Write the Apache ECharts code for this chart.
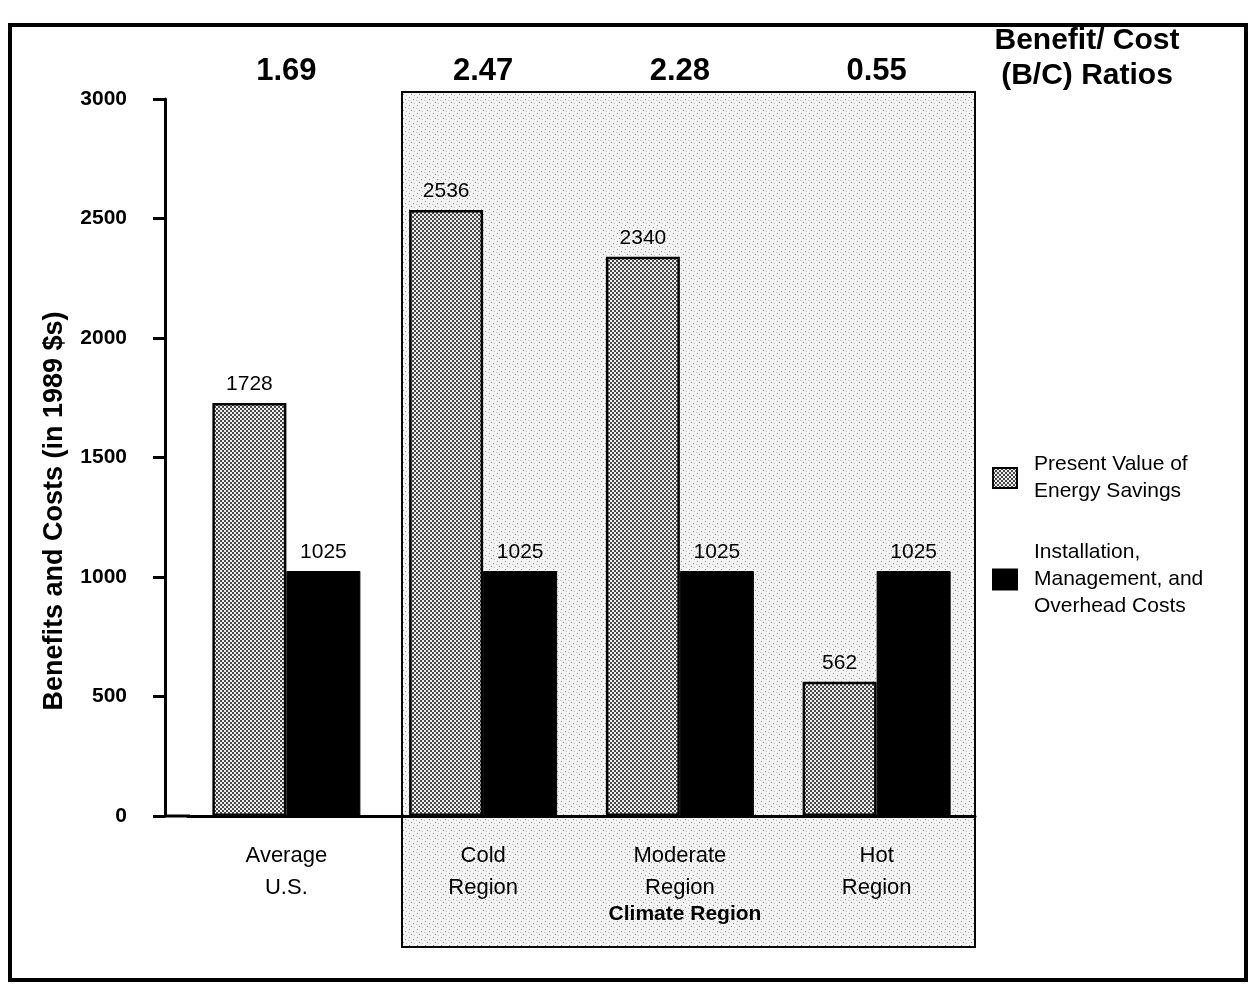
<!DOCTYPE html>
<html>
<head>
<meta charset="utf-8">
<style>
  html, body { margin: 0; padding: 0; background: #fff; }
  #chart { width: 1253px; height: 988px; }
</style>
<script src="https://cdn.jsdelivr.net/npm/echarts@6/dist/echarts.min.js"></script>
</head>
<body>
<div id="chart"></div>
<script>
// Categories along the bottom axis
const categories = ['Average\nU.S.', 'Cold\nRegion', 'Moderate\nRegion', 'Hot\nRegion'];
// Benefit / cost ratios shown above each group
const ratios = ['1.69', '2.47', '2.28', '0.55'];
// Present value of energy savings (1989 $)
const savings = [1728, 2536, 2340, 562];
// Installation, management and overhead costs (1989 $)
const costs = [1025, 1025, 1025, 1025];
// Value axis ticks
const yMin = 0, yMax = 3000, yStep = 500;

const seriesNames = ['Present Value of\nEnergy Savings', 'Installation,\nManagement, and\nOverhead Costs'];

const FONT = '"Liberation Sans", Arial, Helvetica, sans-serif';

// Small tiled canvases used as fills
function tile(w, h, paint) {
  const c = document.createElement('canvas');
  c.width = w; c.height = h;
  paint(c.getContext('2d'));
  return c;
}
// dense checker dither for the savings bars
const checker = tile(4, 4, ctx => {
  ctx.fillStyle = '#eeeeee'; ctx.fillRect(0, 0, 4, 4);
  ctx.fillStyle = '#484848';
  ctx.fillRect(0, 0, 2, 2); ctx.fillRect(2, 2, 2, 2);
});
// sparse stipple for the climate-region panel
const stipple = tile(8, 8, ctx => {
  ctx.fillStyle = '#f3f3f3'; ctx.fillRect(0, 0, 8, 8);
  ctx.fillStyle = '#8a8a8a';
  ctx.fillRect(1, 1, 1, 1); ctx.fillRect(5, 3, 1, 1); ctx.fillRect(3, 6, 1, 1);
  ctx.fillStyle = '#bdbdbd';
  ctx.fillRect(6, 7, 1, 1); ctx.fillRect(0, 4, 1, 1);
});

const GRID = { left: 188, right: 278, top: 99, bottom: 172 };
const AXIS_X = 165;   // position of the vertical axis line

const valueLabel = { show: true, position: 'top', distance: 8, fontFamily: FONT, fontSize: 21, color: '#000' };

const chart = echarts.init(document.getElementById('chart'), null, { renderer: 'canvas' });

chart.setOption({
  backgroundColor: '#ffffff',
  animation: false,
  textStyle: { fontFamily: FONT, color: '#000' },
  grid: GRID,
  legend: {
    orient: 'vertical',
    left: 987,
    top: 446,
    icon: 'rect',
    itemWidth: 24,
    itemHeight: 20,
    itemGap: 34,
    data: seriesNames,
    selectedMode: false,
    textStyle: { fontFamily: FONT, fontSize: 21, color: '#000', lineHeight: 27, padding: [0, 0, 0, 12] }
  },
  xAxis: [
    {
      type: 'category',
      data: categories,
      position: 'bottom',
      axisLine: { show: true, lineStyle: { color: '#000', width: 3 } },
      axisTick: { show: false },
      axisLabel: { fontFamily: FONT, fontSize: 22, color: '#000', lineHeight: 32, margin: 24 }
    },
    {
      type: 'category',
      data: ratios,
      position: 'top',
      axisLine: { show: false },
      axisTick: { show: false },
      axisLabel: { fontFamily: FONT, fontSize: 31, fontWeight: 'bold', color: '#000', margin: 12 }
    }
  ],
  yAxis: {
    type: 'value',
    min: yMin,
    max: yMax,
    interval: yStep,
    offset: GRID.left - AXIS_X,
    splitLine: { show: false },
    axisLine: { show: true, lineStyle: { color: '#000', width: 3 } },
    axisTick: { show: true, length: 12, lineStyle: { color: '#000', width: 3 } },
    axisLabel: {
      fontFamily: FONT, fontSize: 21, fontWeight: 'bold', color: '#000', margin: 38,
      formatter: v => String(v)
    }
  },
  series: [
    {
      name: seriesNames[0],
      type: 'bar',
      xAxisIndex: 0,
      data: savings,
      barWidth: 74,
      barGap: '0%',
      z: 3,
      itemStyle: { color: { image: checker, repeat: 'repeat' }, borderColor: '#000', borderWidth: 2.5 },
      label: valueLabel
    },
    {
      name: seriesNames[1],
      type: 'bar',
      xAxisIndex: 0,
      data: costs,
      barWidth: 74,
      barGap: '0%',
      z: 3,
      itemStyle: { color: '#000', borderColor: '#000', borderWidth: 1 },
      label: valueLabel
    }
  ]
});

// Decorations: outer frame, climate-region panel, headings
const base = chart.convertToPixel({ yAxisIndex: 0 }, 0);
chart.setOption({
  graphic: [
    {
      type: 'rect', z: -10, silent: true,
      shape: { x: 10, y: 25, width: 1236, height: 955 },
      style: { fill: 'none', stroke: '#000', lineWidth: 4 }
    },
    {
      type: 'rect', z: -5, silent: true,
      shape: { x: 402, y: 92, width: 573, height: 855 },
      style: { fill: { image: stipple, repeat: 'repeat' }, stroke: '#000', lineWidth: 2 }
    },
    {
      type: 'line', z: 5, silent: true,
      shape: { x1: AXIS_X - 1, y1: base, x2: GRID.left + 2, y2: base },
      style: { stroke: '#000', lineWidth: 3 }
    },
    {
      type: 'text', z: 5, silent: true,
      x: 685, y: 914,
      style: { text: 'Climate Region', fill: '#000', font: 'bold 21px ' + FONT, align: 'center', verticalAlign: 'middle' }
    },
    {
      type: 'text', z: 5, silent: true,
      x: 1087, y: 58,
      style: { text: 'Benefit/ Cost\n(B/C) Ratios', fill: '#000', font: 'bold 30px ' + FONT, lineHeight: 35, align: 'center', verticalAlign: 'middle' }
    },
    {
      type: 'text', z: 5, silent: true,
      x: 55, y: 511, rotation: Math.PI / 2,
      style: { text: 'Benefits and Costs (in 1989 $s)', fill: '#000', font: 'bold 27px ' + FONT, align: 'center', verticalAlign: 'middle' }
    }
  ]
});
</script>
</body>
</html>
